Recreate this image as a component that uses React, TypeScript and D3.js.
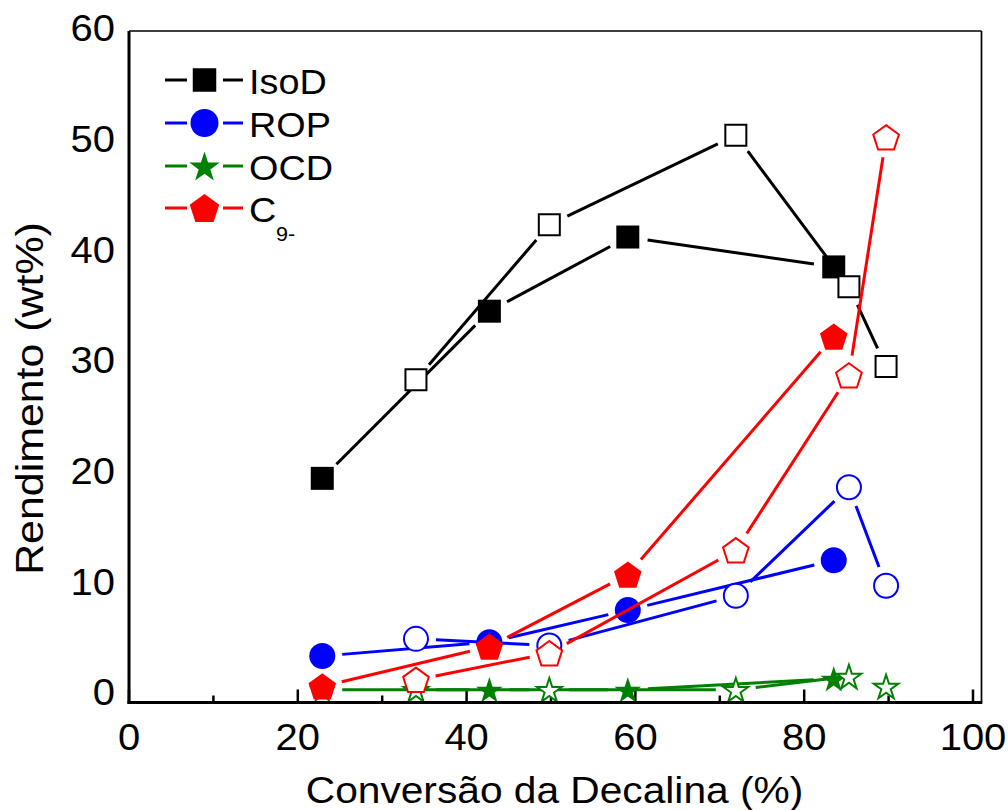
import React from "react";
import * as d3 from "d3";

// Conversion (%) for the two runs: filled symbols and open symbols
const filledConversion = [22.9, 42.7, 59.1, 83.5];
const openConversion = [34.0, 49.8, 71.9, 85.3, 89.7];

// Yields (wt%)
const isodFilled = [19.3, 34.4, 41.1, 38.4];
const isodOpen = [28.2, 42.2, 50.3, 36.6, 29.4];
const ropFilled = [3.25, 4.5, 7.4, 11.9];
const ropOpen = [4.8, 4.2, 8.7, 18.5, 9.6];
const ocdFilled = [0.2, 0.2, 0.2, 1.2];
const ocdOpen = [0.2, 0.2, 0.2, 1.4, 0.5];
const c9Filled = [0.5, 4.1, 10.6, 32.1];
const c9Open = [1.1, 3.5, 12.8, 28.6, 50.1];

const seriesLabels = ["IsoD", "ROP", "OCD", "C"];
const seriesColors = ["#000000", "#0000ff", "#008000", "#ff0000"];
const seriesShapes = ["square", "circle", "star", "pentagon"];

const xTicks = [0, 20, 40, 60, 80, 100];
const xMinorTicks = [10, 30, 50, 70, 90];
const yTicks = [0, 10, 20, 30, 40, 50, 60];

const xTitle = "Conversão da Decalina (%)";
const yTitle = "Rendimento (wt%)";

const W = 1008;
const H = 810;
const FRAME = { left: 129, right: 981.5, top: 31, bottom: 702.5 };
const FONT = "'Liberation Sans', Arial, Helvetica, sans-serif";
const GAP = 20;

const x = d3.scaleLinear().domain([0, 100]).range([129, 973]);
const y = d3.scaleLinear().domain([0, 60]).range([692, 27.8]);

function markerPath(shape: string, cx: number, cy: number, size: number): string {
  if (shape === "square") {
    const h = size / 2;
    return `M${cx - h},${cy - h}h${size}v${size}h${-size}Z`;
  }
  if (shape === "circle") {
    const r = size / 2;
    return `M${cx - r},${cy}a${r},${r} 0 1,0 ${2 * r},0a${r},${r} 0 1,0 ${-2 * r},0Z`;
  }
  const R = size / 2;
  const shift = R * (1 - Math.cos(Math.PI / 5)) / 2;
  const pts: [number, number][] = [];
  if (shape === "pentagon") {
    for (let k = 0; k < 5; k++) {
      const a = -Math.PI / 2 + (k * 2 * Math.PI) / 5;
      pts.push([cx + R * Math.cos(a), cy + shift + R * Math.sin(a)]);
    }
  } else {
    const r = R * 0.382;
    for (let k = 0; k < 10; k++) {
      const a = -Math.PI / 2 + (k * Math.PI) / 5;
      const rr = k % 2 === 0 ? R : r;
      pts.push([cx + rr * Math.cos(a), cy + shift + rr * Math.sin(a)]);
    }
  }
  return "M" + pts.map((p) => `${p[0].toFixed(2)},${p[1].toFixed(2)}`).join("L") + "Z";
}

const markerSize: Record<string, number> = { square: 23, circle: 26, star: 28, pentagon: 29 };
const legendSize: Record<string, number> = { square: 23.5, circle: 28, star: 32, pentagon: 31 };

// Connecting segments stop short of each symbol
function gappedSegments(xs: number[], ys: number[]): string {
  let d = "";
  for (let i = 0; i < xs.length - 1; i++) {
    const x0 = x(xs[i]), y0 = y(ys[i]), x1 = x(xs[i + 1]), y1 = y(ys[i + 1]);
    const len = Math.hypot(x1 - x0, y1 - y0);
    if (len <= 2 * GAP) continue;
    const ux = (x1 - x0) / len, uy = (y1 - y0) / len;
    d += `M${x0 + ux * GAP},${y0 + uy * GAP}L${x1 - ux * GAP},${y1 - uy * GAP}`;
  }
  return d;
}

function SText(props: {
  x: number; y: number; size: number; anchor?: string; rotate?: number; sx?: number; children: React.ReactNode;
}) {
  const { x: tx, y: ty, size, anchor = "start", rotate = 0, sx = 1.08, children } = props;
  return (
    <text
      transform={`translate(${tx},${ty}) rotate(${rotate}) scale(${sx},1)`}
      fontFamily={FONT}
      fontSize={size}
      textAnchor={anchor}
      fill="#000"
    >
      {children}
    </text>
  );
}

export default function App() {
  const series = [
    { filled: isodFilled, open: isodOpen },
    { filled: ropFilled, open: ropOpen },
    { filled: ocdFilled, open: ocdOpen },
    { filled: c9Filled, open: c9Open },
  ];
  const legendRows = [80, 123, 166, 208];

  return (
    <svg
      width={W}
      height={H}
      viewBox={`0 0 ${W} ${H}`}
      style={{ position: "absolute", left: 0, top: 0, background: "#fff" }}
    >
      <rect x={0} y={0} width={W} height={H} fill="#fff" />

      {/* frame */}
      <line x1={FRAME.left} x2={FRAME.right} y1={FRAME.top} y2={FRAME.top} stroke="#000" strokeWidth={1.7} />
      <line x1={FRAME.right} x2={FRAME.right} y1={FRAME.top} y2={FRAME.bottom} stroke="#000" strokeWidth={1.7} />

      {/* x ticks (inward) */}
      {xTicks.map((t) => (
        <line key={"xt" + t} x1={x(t)} x2={x(t)} y1={FRAME.bottom} y2={FRAME.bottom - 13} stroke="#000" strokeWidth={2.5} />
      ))}
      {xMinorTicks.map((t) => (
        <line key={"xm" + t} x1={x(t)} x2={x(t)} y1={FRAME.bottom} y2={FRAME.bottom - 7} stroke="#000" strokeWidth={2.5} />
      ))}

      {/* series */}
      {series.map((s, i) => {
        const color = seriesColors[i];
        const shape = seriesShapes[i];
        const sz = markerSize[shape];
        return (
          <g key={"s" + i}>
            <path d={gappedSegments(filledConversion, s.filled)} stroke={color} strokeWidth={3} fill="none" />
            {s.filled.map((v, j) => (
              <path key={"f" + j} d={markerPath(shape, x(filledConversion[j]), y(v), sz)} fill={color} stroke="none" />
            ))}
            <path d={gappedSegments(openConversion, s.open)} stroke={color} strokeWidth={3} fill="none" />
            {s.open.map((v, j) => (
              <path
                key={"o" + j}
                d={markerPath(shape, x(openConversion[j]), y(v), sz - 2)}
                fill="#fff"
                stroke={color}
                strokeWidth={2}
              />
            ))}
          </g>
        );
      })}

      {/* axes left/bottom */}
      <line x1={FRAME.left} x2={FRAME.left} y1={FRAME.top} y2={FRAME.bottom + 1.5} stroke="#000" strokeWidth={3} />
      <line x1={FRAME.left - 1.5} x2={FRAME.right + 0.8} y1={FRAME.bottom} y2={FRAME.bottom} stroke="#000" strokeWidth={3} />

      {/* tick labels */}
      {xTicks.map((t) => (
        <SText key={"xl" + t} x={x(t)} y={750} size={37} anchor="middle">
          {t}
        </SText>
      ))}
      {yTicks.map((t) => (
        <SText key={"yl" + t} x={115} y={y(t) + 13.3} size={37} anchor="end">
          {t}
        </SText>
      ))}

      {/* axis titles */}
      <SText x={554.5} y={803} size={37} anchor="middle" sx={1.1}>
        {xTitle}
      </SText>
      <SText x={43} y={398.5} size={39} anchor="middle" rotate={-90} sx={1.1}>
        {yTitle}
      </SText>

      {/* legend */}
      {legendRows.map((ry, i) => {
        const color = seriesColors[i];
        const shape = seriesShapes[i];
        return (
          <g key={"lg" + i}>
            <line x1={165} x2={187} y1={ry} y2={ry} stroke={color} strokeWidth={3} />
            <line x1={223} x2={243} y1={ry} y2={ry} stroke={color} strokeWidth={3} />
            <path d={markerPath(shape, 204.5, ry, legendSize[shape])} fill={color} />
            <SText x={249} y={ry + 13.5} size={35}>
              {seriesLabels[i]}
            </SText>
            {i === 3 && (
              <SText x={276} y={ry + 33} size={20}>
                9-
              </SText>
            )}
          </g>
        );
      })}
    </svg>
  );
}
